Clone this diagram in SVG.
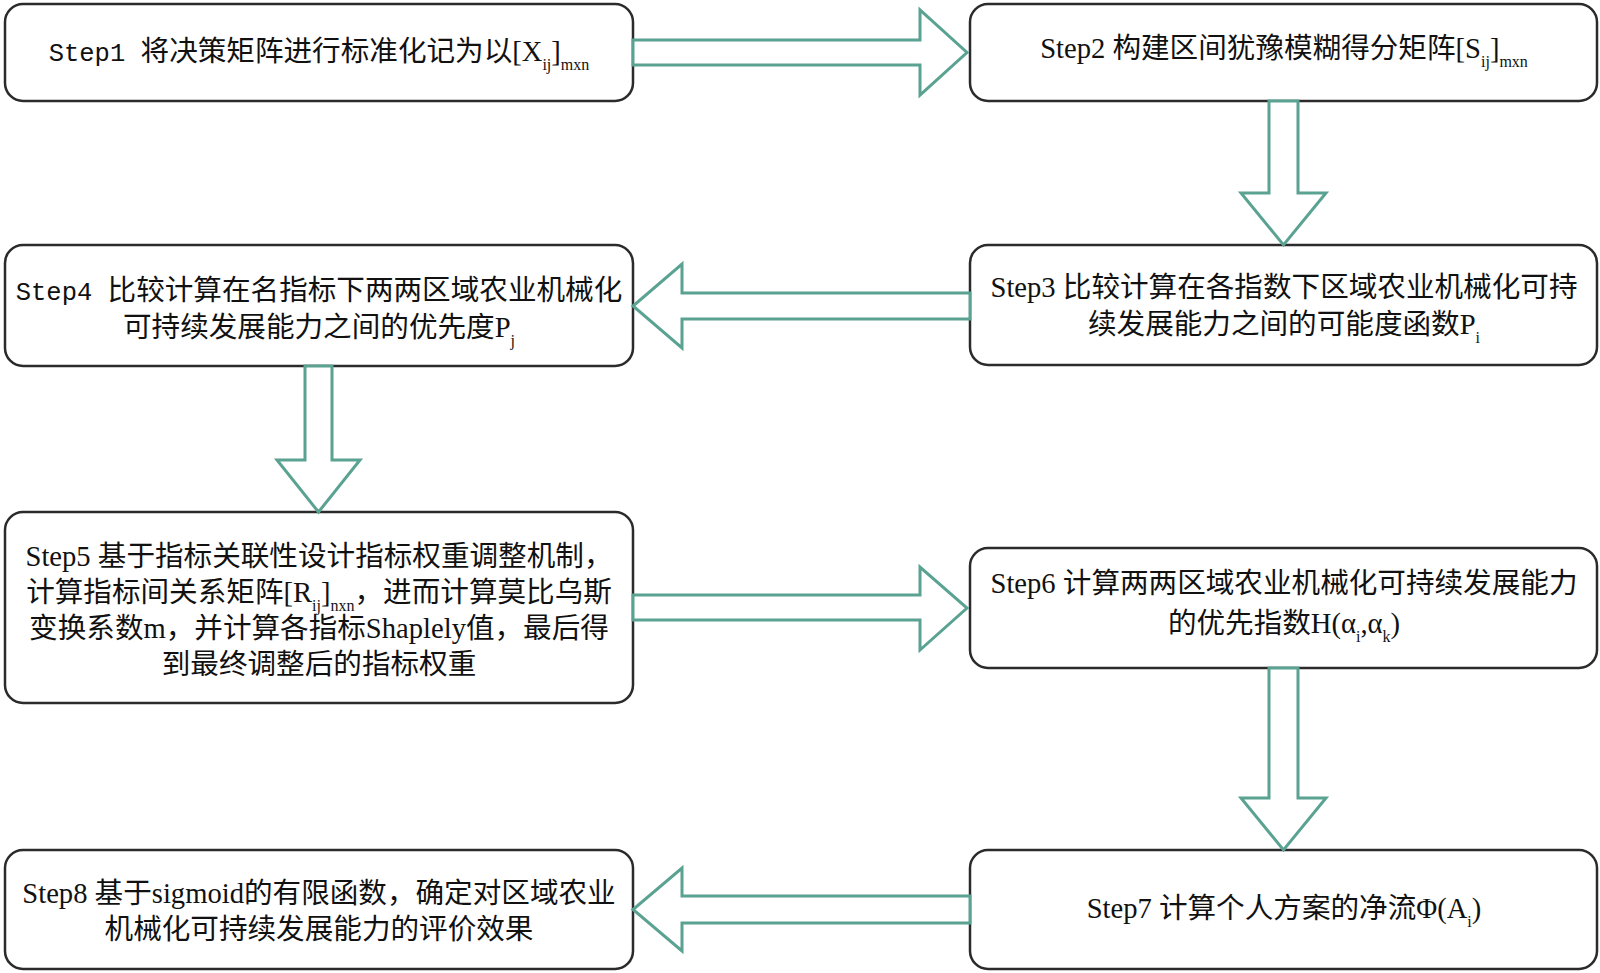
<svg xmlns="http://www.w3.org/2000/svg" width="1600" height="973" viewBox="0 0 1600 973">
<style>
.box{fill:#ffffff;stroke:#2b2b2b;stroke-width:2.5}
.arr{fill:#ffffff;stroke:#5aa291;stroke-width:3;stroke-linejoin:miter}
.t{font-family:"Liberation Serif","Noto Sans CJK SC",serif;font-size:28.6px;fill:#111;text-anchor:middle}
.m{font-family:"Liberation Mono","Noto Sans CJK SC",monospace;font-size:25.5px}
.s{font-size:16px}
</style>
<rect width="1600" height="973" fill="#ffffff"/>
<g id="step1">
<rect class="box" x="5" y="4" width="628" height="97" rx="18"/>
<text class="t" x="319" y="61"><tspan class="m">Step1 </tspan>将决策矩阵进行标准化记为以[X<tspan class="s" dy="9">ij</tspan><tspan dy="-9">]</tspan><tspan class="s" dy="9">mxn</tspan></text>
</g>
<g id="step2">
<rect class="box" x="970" y="4" width="627" height="97" rx="18"/>
<text class="t" x="1284" y="58">Step2 构建区间犹豫模糊得分矩阵[S<tspan class="s" dy="9">ij</tspan><tspan dy="-9">]</tspan><tspan class="s" dy="9">mxn</tspan></text>
</g>
<g id="step3">
<rect class="box" x="970" y="245" width="627" height="120" rx="18"/>
<text class="t" x="1284" y="297">Step3 比较计算在各指数下区域农业机械化可持</text>
<text class="t" x="1284" y="334">续发展能力之间的可能度函数P<tspan class="s" dy="9">i</tspan></text>
</g>
<g id="step4">
<rect class="box" x="5" y="245" width="628" height="121" rx="18"/>
<text class="t" x="319" y="300"><tspan class="m">Step4 </tspan>比较计算在名指标下两两区域农业机械化</text>
<text class="t" x="319" y="337">可持续发展能力之间的优先度P<tspan class="s" dy="9">j</tspan></text>
</g>
<g id="step5">
<rect class="box" x="5" y="512" width="628" height="191" rx="18"/>
<text class="t" x="319" y="566">Step5 基于指标关联性设计指标权重调整机制，</text>
<text class="t" x="319" y="602">计算指标间关系矩阵[R<tspan class="s" dy="9">ij</tspan><tspan dy="-9">]</tspan><tspan class="s" dy="9">nxn</tspan><tspan dy="-9">，进而计算莫比乌斯</tspan></text>
<text class="t" x="319" y="638">变换系数m，并计算各指标Shaplely值，最后得</text>
<text class="t" x="319" y="674">到最终调整后的指标权重</text>
</g>
<g id="step6">
<rect class="box" x="970" y="548" width="627" height="120" rx="18"/>
<text class="t" x="1284" y="593">Step6 计算两两区域农业机械化可持续发展能力</text>
<text class="t" x="1284" y="633">的优先指数H(α<tspan class="s" dy="9">i</tspan><tspan dy="-9">,α</tspan><tspan class="s" dy="9">k</tspan><tspan dy="-9">)</tspan></text>
</g>
<g id="step7">
<rect class="box" x="970" y="850" width="627" height="119" rx="18"/>
<text class="t" x="1284" y="918">Step7 计算个人方案的净流Φ(A<tspan class="s" dy="9">i</tspan><tspan dy="-9">)</tspan></text>
</g>
<g id="step8">
<rect class="box" x="5" y="850" width="628" height="119" rx="18"/>
<text class="t" x="319" y="903">Step8 基于sigmoid的有限函数，确定对区域农业</text>
<text class="t" x="319" y="939">机械化可持续发展能力的评价效果</text>
</g>
<g id="connectors">
<path class="arr" d="M633,40 H920 V10 L967,52.5 L920,95 V65 H633 Z"/>
<path class="arr" d="M1269,101 V193 H1241 L1283.5,245 L1326,193 H1298 V101 Z"/>
<path class="arr" d="M970,293 H682 V264 L633,306 L682,348 V319 H970 Z"/>
<path class="arr" d="M305,366 V460 H277 L318.5,512 L360,460 H332 V366 Z"/>
<path class="arr" d="M633,595 H920 V567 L967,608 L920,650 V620 H633 Z"/>
<path class="arr" d="M1269,668 V798 H1241 L1283.5,850 L1326,798 H1298 V668 Z"/>
<path class="arr" d="M970,896 H682 V868 L633,909.5 L682,951 V923 H970 Z"/>
</g>
</svg>
